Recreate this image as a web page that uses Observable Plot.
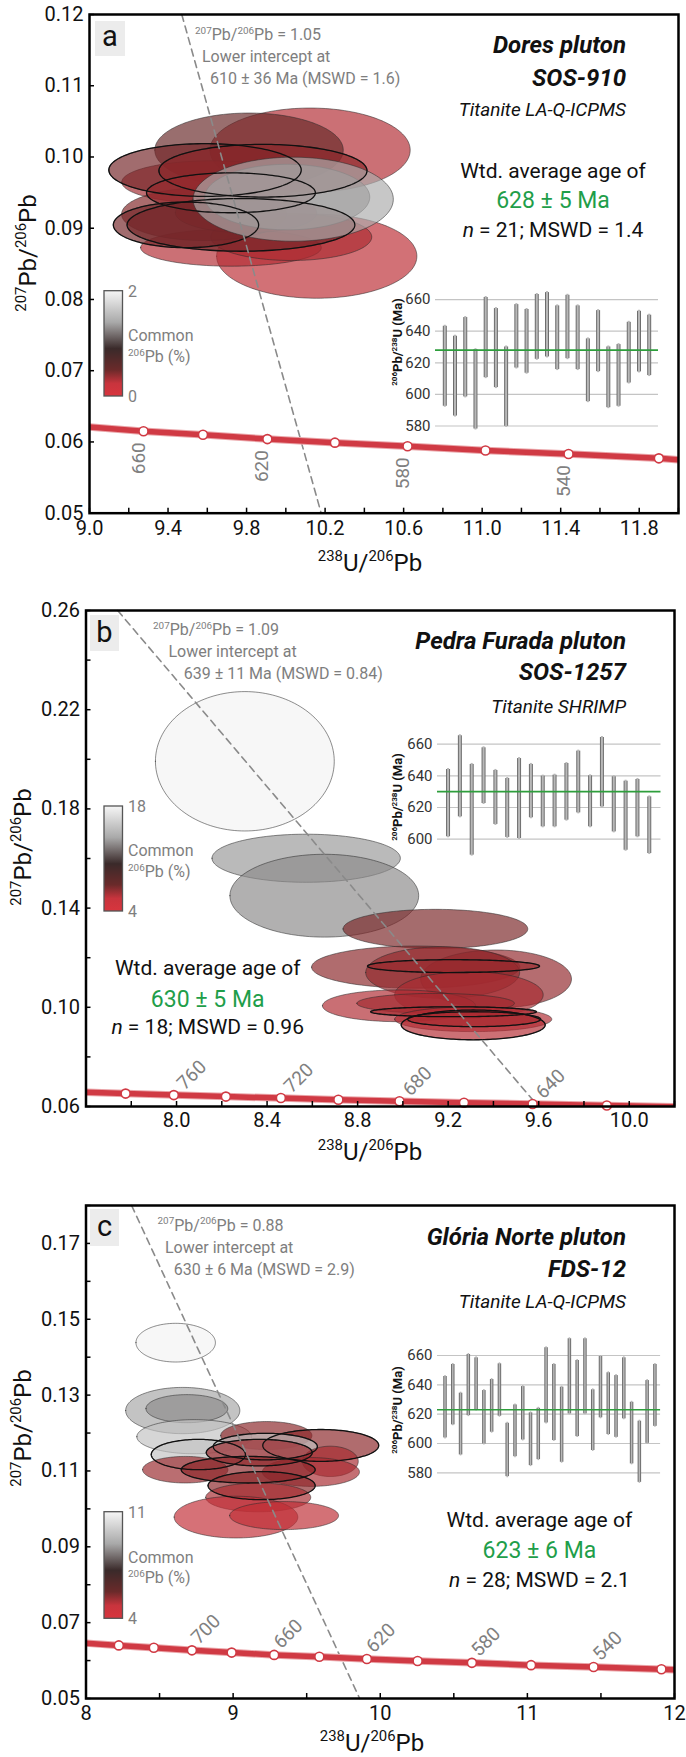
<!DOCTYPE html>
<html><head><meta charset="utf-8">
<script src="https://cdn.jsdelivr.net/npm/d3@7"></script>
<script src="https://cdn.jsdelivr.net/npm/@observablehq/plot@0.6"></script>
<style>
body{margin:0;background:#fff;}
#root{position:relative;width:686px;height:1757px;overflow:hidden;font-family:Roboto,sans-serif;}
</style></head><body><div id="root"></div>
<script>
const FONT = "Roboto, 'Open Sans', sans-serif";

// ---------- shared colour ramp (normalised stops of the common-Pb scale) ----------
const colorStops = [0, 0.2, 0.4, 0.55, 0.72, 0.87, 1];
const colorRange = ["#cc2f38", "#ab2b31", "#822628", "#5c2a2a", "#8e8e8e", "#c8c8c8", "#f3f3f3"];

// ---------- Panel a: Dores pluton ----------
// ellipses: [cx (238U/206Pb), cy (207Pb/206Pb), rx, ry, common 206Pb %, bold outline]
const ellipsesA = [
  [10.126,0.1009,0.51,0.0059,0.3,0],[10.16,0.0860,0.51,0.0059,0.2,0],[9.815,0.1009,0.48,0.0052,1.0,0],
  [9.627,0.0964,0.46,0.0030,0.5,0],[9.723,0.0872,0.46,0.0026,0.3,0],[10.03,0.0887,0.41,0.0033,0.4,0],
  [9.586,0.0919,0.42,0.0037,0.8,0],[9.80,0.0921,0.36,0.0028,0.5,0],[9.591,0.0981,0.49,0.0037,0.9,1],
  [9.886,0.0980,0.53,0.0037,0.7,1],[9.723,0.0949,0.43,0.0028,0.6,1],[9.494,0.0904,0.37,0.0032,0.9,1],
  [9.774,0.0904,0.58,0.0037,0.9,1],[10.01,0.0943,0.42,0.0046,1.4,0],[10.04,0.0940,0.51,0.0059,1.6,0]
];
const cpRangeA = [0, 2];
const concAges_A = [660, 640, 620, 600, 580, 560, 540, 520];
const concX_A = [9.275, 9.578, 9.906, 10.25, 10.62, 11.017, 11.44, 11.90];
const concY_A = [0.0615, 0.0610, 0.0604, 0.0599, 0.0594, 0.0588, 0.0583, 0.0577];
const concEndsX_A = [9.0, 12.0], concEndsY_A = [0.0621, 0.0575];
const labelAges_A = [660, 620, 580, 540];
const dashX_A = [9.47, 10.18], dashY_A = [0.12, 0.05];
const xTicks_A = [9.0,9.2,9.4,9.6,9.8,10.0,10.2,10.4,10.6,10.8,11.0,11.2,11.4,11.6,11.8,12.0];
const xLabels_A = [9.0,9.4,9.8,10.2,10.6,11.0,11.4,11.8];
const yTicks_A = [0.05,0.06,0.07,0.08,0.09,0.10,0.11,0.12];
const yLabels_A = [0.05,0.06,0.07,0.08,0.09,0.10,0.11,0.12];
const insetLo_A = [592.5,586.3,598.4,578.1,610.6,604.3,579.8,616.7,613.4,622.2,623.7,615.7,622.6,615.7,595.4,614.4,591.6,592.5,607.2,614.2,611.9];
const insetHi_A = [643.1,636.8,648.6,628.3,661.3,654.3,630.0,656.8,653.7,663.2,664.4,656.0,662.7,656.0,635.1,653.0,630.0,631.5,645.6,652.6,650.1];
const insetGrid_A = [580, 600, 620, 640, 660];
const wtdMean_A = 628;

// ---------- Panel b: Pedra Furada pluton ----------
const ellipsesB = [
  [8.304,0.199,0.395,0.0281,18,0],[8.575,0.1599,0.416,0.0097,14.5,0],[8.655,0.1448,0.417,0.0167,14,0],
  [9.146,0.1314,0.408,0.0079,10,0],[9.059,0.116,0.46,0.0085,9,0],[9.414,0.1112,0.333,0.0117,8.5,0],
  [9.178,0.1138,0.34,0.0104,8.5,0],[9.226,0.1164,0.38,0.0026,8,1],[9.294,0.1048,0.328,0.0094,7,0],
  [8.985,0.1004,0.338,0.0064,6.5,0],[9.147,0.1014,0.348,0.004,7.5,0],[9.226,0.098,0.366,0.002,7,1],
  [9.313,0.095,0.347,0.005,6.5,0],[9.313,0.0927,0.318,0.006,6,1],[9.317,0.095,0.294,0.003,7,1]
];
const cpRangeB = [4, 18];
const concAges_B = [780, 760, 740, 720, 700, 680, 660, 640, 620];
const concX_B = [7.775, 7.988, 8.218, 8.461, 8.715, 8.985, 9.27, 9.573, 9.901];
const concY_B = [0.0652, 0.0646, 0.0640, 0.0634, 0.0627, 0.0621, 0.0615, 0.0610, 0.0604];
const concEndsX_B = [7.6, 10.2], concEndsY_B = [0.0657, 0.0599];
const labelAges_B = [760, 720, 680, 640];
const dashX_B = [7.74, 9.575], dashY_B = [0.26, 0.0625];
const xTicks_B = [7.6,7.8,8.0,8.2,8.4,8.6,8.8,9.0,9.2,9.4,9.6,9.8,10.0,10.2];
const xLabels_B = [8.0,8.4,8.8,9.2,9.6,10.0];
const yTicks_B = [0.06,0.08,0.10,0.12,0.14,0.16,0.18,0.20,0.22,0.24,0.26];
const yLabels_B = [0.06,0.10,0.14,0.18,0.22,0.26];
const insetLo_B = [601.5,614.1,589.9,622.5,609.3,601.1,600.4,613.5,607.8,607.8,612.0,616.6,607.8,620.4,604.6,593.0,601.5,590.9];
const insetHi_B = [644.0,665.3,647.2,657.7,643.4,638.3,650.9,647.2,639.8,640.4,647.8,655.6,640.0,664.2,639.4,636.6,637.7,626.7];
const insetGrid_B = [600, 620, 640, 660];
const wtdMean_B = 630;

// ---------- Panel c: Glória Norte pluton ----------
const ellipsesC = [
  [8.613,0.1437,0.27,0.0051,11,0],[8.661,0.1258,0.388,0.0061,9.5,0],[8.689,0.1263,0.278,0.0037,9,0],
  [8.739,0.1189,0.39,0.0045,10,0],[9.229,0.1192,0.31,0.0037,6.5,0],[9.599,0.1166,0.394,0.0042,6.5,1],
  [9.222,0.1163,0.354,0.0035,10,1],[8.767,0.1142,0.32,0.004,10,1],[8.678,0.1102,0.29,0.0035,6,0],
  [9.664,0.1124,0.19,0.004,5.5,0],[9.532,0.1096,0.33,0.0038,5.5,0],[9.181,0.1147,0.36,0.0035,6,1],
  [9.106,0.1102,0.455,0.0035,6.5,1],[9.197,0.106,0.364,0.0037,6.5,1],[9.174,0.1029,0.357,0.0038,5.5,0],
  [9.023,0.0977,0.42,0.0055,4.4,0],[9.35,0.0981,0.37,0.0037,4.6,0]
];
const cpRangeC = [4, 11];
const concAges_C = [740, 720, 700, 680, 660, 640, 620, 600, 580, 560, 540, 520];
const concX_C = [8.223, 8.461, 8.72, 8.99, 9.279, 9.586, 9.909, 10.254, 10.623, 11.025, 11.45, 11.911];
const concY_C = [0.0640, 0.0634, 0.0627, 0.0621, 0.0615, 0.0610, 0.0604, 0.0599, 0.0594, 0.0588, 0.0583, 0.0577];
const concEndsX_C = [8.0, 12.0], concEndsY_C = [0.0646, 0.0576];
const labelAges_C = [700, 660, 620, 580, 540];
const dashX_C = [8.31, 9.86], dashY_C = [0.18, 0.05];
const xTicks_C = [8,8.5,9,9.5,10,10.5,11,11.5,12];
const xLabels_C = [8,9,10,11,12];
const yTicks_C = [0.05,0.06,0.07,0.08,0.09,0.10,0.11,0.12,0.13,0.14,0.15,0.16,0.17,0.18];
const yLabels_C = [0.05,0.07,0.09,0.11,0.13,0.15,0.17];
const insetLo_C = [603.8,612.7,592.2,619.0,622.9,599.7,607.7,618.6,577.4,591.0,602.4,584.9,589.0,614.0,602.0,587.2,620.2,604.7,620.2,595.2,617.5,606.1,604.2,616.8,586.1,573.5,600.1,611.7];
const insetHi_C = [645.7,653.9,634.3,660.7,658.4,636.1,643.6,654.3,613.8,626.3,638.8,620.9,624.0,665.3,653.9,638.4,671.4,656.6,671.4,636.6,659.3,648.2,646.3,658.4,628.1,615.2,642.9,653.9];
const insetGrid_C = [580, 600, 620, 640, 660];
const wtdMean_C = 623;

// ---------- builders ----------
const root = document.getElementById("root");
function mount(node, left, top) {
  node.style.position = "absolute"; node.style.left = left + "px"; node.style.top = top + "px";
  root.appendChild(node);
}
function ellipsePts(rows) {
  const N = 80, out = [];
  rows.forEach((r, i) => {
    const [cx, cy, rx, ry, cp, bold] = r;
    for (let k = 0; k <= N; k++) {
      const th = Math.PI * k / N, h = ry * Math.sin(th);
      out.push({id: i, cp, bold, x: cx - rx * Math.cos(th), y1: cy - h, y2: cy + h});
    }
  });
  return out;
}
function mainPanel(c) {
  const pts = ellipsePts(c.ellipses);
  const markers = c.concX.map((x, i) => ({x, y: c.concY[i], age: c.ages[i]}));
  const line = [{x: c.endsX[0], y: c.endsY[0]}, ...markers, {x: c.endsX[1], y: c.endsY[1]}];
  const labeled = markers.filter(d => c.labelAges.includes(d.age));
  const dash = c.dashX.map((x, i) => ({x, y: c.dashY[i]}));
  const [c0, c1] = c.cpRange;
  const f = c.frame, svgTop = f.t - c.padTop, svgH = (f.b - f.t) + c.padTop + c.padBottom;
  const svg = Plot.plot({
    width: 686, height: svgH,
    marginLeft: f.l, marginRight: 686 - f.r, marginTop: c.padTop, marginBottom: c.padBottom,
    style: {background: "transparent", fontFamily: FONT, overflow: "visible"},
    x: {domain: c.xDomain, label: null},
    y: {domain: c.yDomain, label: null},
    color: {type: "linear", domain: colorStops.map(s => c0 + s * (c1 - c0)), range: colorRange, interpolate: "rgb"},
    marks: [
      Plot.area(pts, {x1: "x", y1: "y1", y2: "y2", z: "id", fill: "cp", fillOpacity: 0.68,
        stroke: "#2a2a2a", strokeOpacity: 0.6, strokeWidth: 0.9}),
      Plot.area(pts.filter(d => d.bold), {x1: "x", y1: "y1", y2: "y2", z: "id", fill: "none",
        stroke: "#111", strokeWidth: 1.3}),
      Plot.line(dash, {x: "x", y: "y", stroke: "#8a8a8a", strokeWidth: 1.6, strokeDasharray: "7,5"}),
      Plot.line(line, {x: "x", y: "y", stroke: "#eaa5a9", strokeWidth: 7.5, clip: true}),
      Plot.line(line, {x: "x", y: "y", stroke: "#d03a44", strokeWidth: 5.5, clip: true}),
      Plot.dot(markers, {x: "x", y: "y", r: 4.5, fill: "white", stroke: "#d03a44", strokeWidth: 1.6}),
      Plot.text(labeled, {x: "x", y: "y", text: d => String(d.age), rotate: c.labelRotate,
        dx: c.labelDx, dy: c.labelDy, fill: "#808080", fontSize: 19}),
      Plot.axisX(c.xTicks, {tickSize: 5, dy: -5, tickFormat: () => "", strokeWidth: 1.5, label: null}),
      Plot.axisY(c.yTicks, {tickSize: 5, dx: 5, tickFormat: () => "", strokeWidth: 1.5, label: null}),
      Plot.axisX(c.xLabels, {tickSize: 0, tickPadding: c.xPad, tickFormat: c.xFormat, fontSize: 20, fill: "#111", label: null}),
      Plot.axisY(c.yLabels, {tickSize: 0, tickPadding: 6, tickFormat: ".2f", fontSize: 20, fill: "#111", label: null}),
      Plot.frame({stroke: "#000", strokeWidth: 2.5})
    ]
  });
  mount(svg, 0, svgTop);
}
function insetPanel(c) {
  const bars = c.lo.map((lo, i) => ({i, lo, hi: c.hi[i]}));
  const f = c.frame, ml = 55, mr = 10, mt = 10, mb = 10;
  const svg = Plot.plot({
    width: (f.r - f.l) + ml + mr, height: (f.b - f.t) + mt + mb,
    marginLeft: ml, marginRight: mr, marginTop: mt, marginBottom: mb,
    style: {background: "transparent", fontFamily: FONT, overflow: "visible"},
    x: {domain: c.xDomain, axis: null},
    y: {domain: c.yDomain, label: null},
    marks: [
      Plot.gridY(c.grid, {stroke: "#c4c4c4", strokeOpacity: 1, strokeWidth: 1.2}),
      Plot.axisY(c.grid, {tickSize: 0, tickPadding: 5, fontSize: 15, fill: "#333", label: null}),
      Plot.ruleX(bars, {x: "i", y1: "lo", y2: "hi", stroke: "#6e6e6e", strokeWidth: c.bw}),
      Plot.ruleX(bars, {x: "i", y1: "lo", y2: "hi", stroke: "#b8b8b8", strokeWidth: c.bw - 2, insetTop: 1, insetBottom: 1}),
      Plot.ruleY([c.mean], {stroke: "#2e9e3c", strokeWidth: 1.6})
    ]
  });
  mount(svg, f.l - ml, f.t - mt);
}

mainPanel({ellipses: ellipsesA, cpRange: cpRangeA, concX: concX_A, concY: concY_A, ages: concAges_A,
  endsX: concEndsX_A, endsY: concEndsY_A, labelAges: labelAges_A, dashX: dashX_A, dashY: dashY_A,
  frame: {l: 89, r: 678, t: 14, b: 512.7}, padTop: 14, padBottom: 36,
  xDomain: [9, 12], yDomain: [0.05, 0.12], xTicks: xTicks_A, xLabels: xLabels_A, yTicks: yTicks_A, yLabels: yLabels_A,
  xFormat: ".1f", xPad: 8, labelRotate: -90, labelDx: -5, labelDy: 27});
mainPanel({ellipses: ellipsesB, cpRange: cpRangeB, concX: concX_B, concY: concY_B, ages: concAges_B,
  endsX: concEndsX_B, endsY: concEndsY_B, labelAges: labelAges_B, dashX: dashX_B, dashY: dashY_B,
  frame: {l: 85.5, r: 674, t: 610, b: 1106}, padTop: 20, padBottom: 34,
  xDomain: [7.6, 10.2], yDomain: [0.06, 0.26], xTicks: xTicks_B, xLabels: xLabels_B, yTicks: yTicks_B, yLabels: yLabels_B,
  xFormat: ".1f", xPad: 6, labelRotate: -45, labelDx: 18, labelDy: -20});
mainPanel({ellipses: ellipsesC, cpRange: cpRangeC, concX: concX_C, concY: concY_C, ages: concAges_C,
  endsX: concEndsX_C, endsY: concEndsY_C, labelAges: labelAges_C, dashX: dashX_C, dashY: dashY_C,
  frame: {l: 85.5, r: 674, t: 1205.3, b: 1698.3}, padTop: 20, padBottom: 34,
  xDomain: [8, 12], yDomain: [0.05, 0.18], xTicks: xTicks_C, xLabels: xLabels_C, yTicks: yTicks_C, yLabels: yLabels_C,
  xFormat: "d", xPad: 7, labelRotate: -45, labelDx: 14, labelDy: -21});

insetPanel({lo: insetLo_A, hi: insetHi_A, grid: insetGrid_A, mean: wtdMean_A, bw: 4,
  frame: {l: 435, r: 658, t: 288.2, b: 433.6}, yDomain: [575, 667], xDomain: [-0.91, 20.91]});
insetPanel({lo: insetLo_B, hi: insetHi_B, grid: insetGrid_B, mean: wtdMean_B, bw: 4,
  frame: {l: 437, r: 660.5, t: 731.3, b: 862.7}, yDomain: [585, 668], xDomain: [-0.89, 17.99]});
insetPanel({lo: insetLo_C, hi: insetHi_C, grid: insetGrid_C, mean: wtdMean_C, bw: 3.5,
  frame: {l: 437.4, r: 660.5, t: 1333, b: 1487}, yDomain: [570, 675], xDomain: [-0.965, 27.73]});

// ---------- text / legend overlay ----------
const ov = d3.select(root).append("svg").attr("width", 686).attr("height", 1757)
  .style("position", "absolute").style("left", "0px").style("top", "0px").style("pointer-events", "none");
const grad = ov.append("defs").append("linearGradient").attr("id", "cpg")
  .attr("x1", 0).attr("y1", 0).attr("x2", 0).attr("y2", 1);
[[0, "#f6f6f6"], [0.3, "#a9a9a9"], [0.55, "#3a2a2a"], [0.75, "#6a2a2a"], [0.88, "#c8343d"], [1, "#d8353e"]]
  .forEach(([o, col]) => grad.append("stop").attr("offset", o).attr("stop-color", col));

function txt(x, y, parts, o = {}) {
  const fs = o.size || 16;
  const t = ov.append("text").attr("x", x).attr("y", y).attr("font-size", fs)
    .attr("fill", o.fill || "#111").attr("text-anchor", o.anchor || "start").attr("font-family", FONT);
  if (o.weight) t.attr("font-weight", o.weight);
  if (o.style) t.attr("font-style", o.style);
  if (o.rotate != null) t.attr("transform", `rotate(${o.rotate},${x},${y})`);
  let up = false;
  for (const p of parts) {
    const [s, kind] = typeof p === "string" ? [p, null] : p;
    const ts = t.append("tspan").text(s);
    if (kind === "sup") { ts.attr("font-size", fs * 0.62); if (!up) { ts.attr("dy", -fs * 0.4); up = true; } }
    else { if (up) { ts.attr("dy", fs * 0.4); up = false; } if (kind === "i") ts.attr("font-style", "italic"); }
  }
}
const PB76 = [["207", "sup"], "Pb/", ["206", "sup"], "Pb"];
const U38 = [["238", "sup"], "U/", ["206", "sup"], "Pb"];
const INS = [["206", "sup"], "Pb/", ["238", "sup"], "U (Ma)"];
const GRAY = "#7e7e7e", GREEN = "#1f9e4a";

function panelText(p) {
  ov.append("rect").attr("x", p.box[0]).attr("y", p.box[1]).attr("width", p.box[2]).attr("height", p.box[3]).attr("fill", "#ececec");
  txt(p.box[0] + p.box[2] / 2, p.letterY, [p.letter], {size: 29, anchor: "middle"});
  txt(626, p.titleY[0], [p.title[0]], {size: 24, anchor: "end", weight: "bold", style: "italic"});
  txt(626, p.titleY[1], [p.title[1]], {size: 24, anchor: "end", weight: "bold", style: "italic"});
  txt(626, p.titleY[2], [p.title[2]], {size: 19, anchor: "end", style: "italic"});
  txt(p.ann[0][0], p.ann[0][1], [["207", "sup"], "Pb/", ["206", "sup"], "Pb = " + p.annText[0]], {size: 16, fill: GRAY});
  txt(p.ann[1][0], p.ann[1][1], ["Lower intercept at"], {size: 16, fill: GRAY});
  txt(p.ann[2][0], p.ann[2][1], [p.annText[1]], {size: 16, fill: GRAY});
  txt(p.wtdX, p.wtdY[0], ["Wtd. average age of"], {size: 21, anchor: "middle"});
  txt(p.wtdX, p.wtdY[1], [p.wtdText[0]], {size: 23, anchor: "middle", fill: GREEN});
  txt(p.wtdX, p.wtdY[2], [["n", "i"], p.wtdText[1]], {size: 21, anchor: "middle"});
  ov.append("rect").attr("x", 104).attr("y", p.leg[0]).attr("width", 18.5).attr("height", p.leg[1] - p.leg[0])
    .attr("fill", "url(#cpg)").attr("stroke", "#555").attr("stroke-width", 1.3);
  txt(128, p.leg[0] + 6, [p.legText[0]], {size: 16, fill: GRAY});
  txt(128, p.leg[1] + 6, [p.legText[1]], {size: 16, fill: GRAY});
  txt(128, p.legLab[0], ["Common"], {size: 16, fill: GRAY});
  txt(128, p.legLab[1], [["206", "sup"], "Pb (%)"], {size: 16, fill: GRAY});
  txt(p.yTitle[0], p.yTitle[1], PB76, {size: 24, anchor: "middle", rotate: -90});
  txt(p.xTitle[0], p.xTitle[1], U38, {size: 24, anchor: "middle"});
  txt(p.insT[0], p.insT[1], INS, {size: 13, anchor: "middle", rotate: -90, weight: "bold"});
}
panelText({box: [95, 21, 30, 35], letter: "a", letterY: 46,
  title: ["Dores pluton", "SOS-910", "Titanite LA-Q-ICPMS"], titleY: [53, 86, 116],
  ann: [[195, 40], [202, 62], [210, 84]], annText: ["1.05", "610 ± 36 Ma (MSWD = 1.6)"],
  wtdX: 553, wtdY: [178, 208, 237], wtdText: ["628 ± 5 Ma", " = 21; MSWD = 1.4"],
  leg: [290.7, 396], legText: ["2", "0"], legLab: [341, 362],
  yTitle: [36, 253], xTitle: [370, 571], insT: [402, 342]});
panelText({box: [90, 615, 29, 36], letter: "b", letterY: 642,
  title: ["Pedra Furada pluton", "SOS-1257", "Titanite SHRIMP"], titleY: [649, 680, 712.7],
  ann: [[153, 635], [168.4, 657.3], [183.7, 679.3]], annText: ["1.09", "639 ± 11 Ma (MSWD = 0.84)"],
  wtdX: 207.7, wtdY: [975, 1006.7, 1034.3], wtdText: ["630 ± 5 Ma", " = 18; MSWD = 0.96"],
  leg: [806, 911], legText: ["18", "4"], legLab: [856, 877],
  yTitle: [31, 847], xTitle: [370, 1160], insT: [402, 797]});
panelText({box: [90, 1209, 29, 37], letter: "c", letterY: 1236,
  title: ["Glória Norte pluton", "FDS-12", "Titanite LA-Q-ICPMS"], titleY: [1245, 1276.7, 1308.3],
  ann: [[157.5, 1230.7], [165, 1253.3], [173.7, 1275]], annText: ["0.88", "630 ± 6 Ma (MSWD = 2.9)"],
  wtdX: 539.4, wtdY: [1527.3, 1558.3, 1586.7], wtdText: ["623 ± 6 Ma", " = 28; MSWD = 2.1"],
  leg: [1511.7, 1618.3], legText: ["11", "4"], legLab: [1563, 1583],
  yTitle: [31, 1428], xTitle: [372, 1751], insT: [402, 1410]});
</script></body></html>
